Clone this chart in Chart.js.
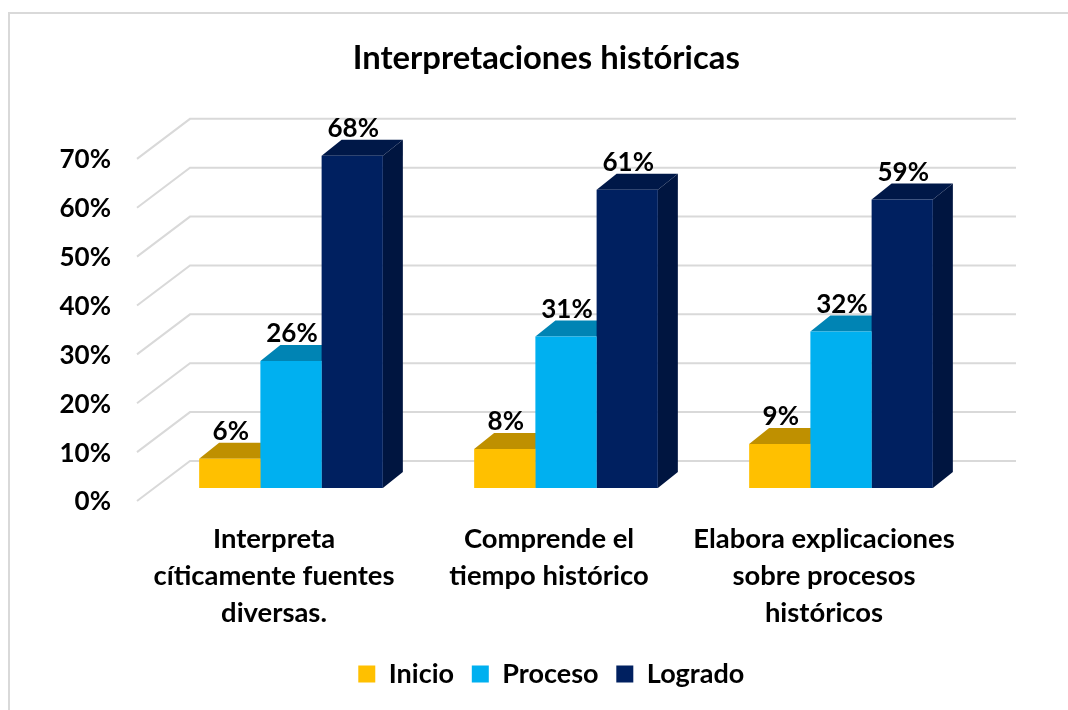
<!DOCTYPE html>
<html>
<head>
<meta charset="utf-8">
<title>Interpretaciones históricas</title>
<script src="https://cdn.jsdelivr.net/npm/chart.js@4"></script>
<style>
  html, body { margin: 0; padding: 0; background: #fff; }
  #wrap { position: relative; width: 1068px; height: 710px; }
</style>
</head>
<body>
<div id="wrap"><canvas id="grafico"></canvas></div>
<script>
const categorias = [
    ["Interpreta", "cíticamente fuentes", "diversas."],
    ["Comprende el", "tiempo histórico"],
    ["Elabora explicaciones", "sobre procesos", "históricos"]
]
const inicio = [6, 8, 9]
const proceso = [26, 31, 32]
const logrado = [68, 61, 59]
const marcasY = [0, 10, 20, 30, 40, 50, 60, 70]

const colores = ["#FFC000", "#00B0F0", "#002060"]
const coloresTapa = ["#BF9000", "#0084B4", "#001848"]
const coloresLado = ["#A67D00", "#007099", "#001540"]

const fuente = "Lato, Carlito, Calibri, sans-serif"
const colorGrid = "#D9D9D9"

/* profundidad de las barras y del piso, para simular el 3D */
const fondoBarra = { x: 20, y: 16 }
const fondoPiso = { x: 53, y: 40 }

/* marco exterior, rejilla en perspectiva y caras 3D de las barras */
const efecto3D = {
    id: "efecto3D",
    /* el titulo y la leyenda no estan centrados sobre el area de las barras */
    afterLayout(chart) {
        chart.titleBlock.left += 32
        chart.titleBlock.right += 32
        chart.legend.left += 37
        chart.legend.right += 37
    },
    beforeDraw(chart) {
        const ctx = chart.ctx
        ctx.save()
        ctx.strokeStyle = colorGrid
        ctx.lineWidth = 2
        ctx.beginPath()
        ctx.moveTo(9, 710)
        ctx.lineTo(9, 13)
        ctx.lineTo(1068, 13)
        ctx.stroke()
        ctx.restore()
    },
    beforeDatasetsDraw(chart) {
        const ctx = chart.ctx
        const escalaY = chart.scales.y
        ctx.save()
        ctx.strokeStyle = colorGrid
        ctx.lineWidth = 2
        marcasY.forEach((valor) => {
            const y = escalaY.getPixelForValue(valor) + 13
            ctx.beginPath()
            ctx.moveTo(137, y)
            ctx.lineTo(137 + fondoPiso.x, y - fondoPiso.y)
            ctx.lineTo(1016, y - fondoPiso.y)
            ctx.stroke()
        })
        chart.data.datasets.forEach((ds, i) => {
            chart.getDatasetMeta(i).data.forEach((barra) => {
                const izq = barra.x - barra.width / 2
                const der = barra.x + barra.width / 2
                ctx.fillStyle = coloresLado[i]
                ctx.beginPath()
                ctx.moveTo(der, barra.y)
                ctx.lineTo(der + fondoBarra.x, barra.y - fondoBarra.y)
                ctx.lineTo(der + fondoBarra.x, barra.base - fondoBarra.y)
                ctx.lineTo(der, barra.base)
                ctx.closePath()
                ctx.fill()
                ctx.fillStyle = coloresTapa[i]
                ctx.beginPath()
                ctx.moveTo(izq, barra.y)
                ctx.lineTo(izq + fondoBarra.x, barra.y - fondoBarra.y)
                ctx.lineTo(der + fondoBarra.x, barra.y - fondoBarra.y)
                ctx.lineTo(der, barra.y)
                ctx.closePath()
                ctx.fill()
            })
        })
        ctx.restore()
    },
    /* etiquetas de valor sobre cada barra */
    afterDatasetsDraw(chart) {
        const ctx = chart.ctx
        ctx.save()
        ctx.fillStyle = "#000"
        ctx.font = "bold 26px " + fuente
        ctx.textAlign = "center"
        ctx.textBaseline = "middle"
        chart.data.datasets.forEach((ds, i) => {
            chart.getDatasetMeta(i).data.forEach((barra, j) => {
                ctx.fillText(ds.data[j] + "%", barra.x + 1, barra.y - 27)
            })
        })
        ctx.restore()
    }
}

new Chart(document.getElementById("grafico"), {
    type: "bar",
    data: {
        labels: categorias,
        datasets: [
            { label: "Inicio", data: inicio, backgroundColor: colores[0] },
            { label: "Proceso", data: proceso, backgroundColor: colores[1] },
            { label: "Logrado", data: logrado, backgroundColor: colores[2] }
        ]
    },
    options: {
        responsive: true,
        maintainAspectRatio: false,
        animation: false,
        categoryPercentage: 0.668,
        barPercentage: 1,
        layout: { padding: { left: 50, right: 89.5, top: 0, bottom: 12.5 } },
        plugins: {
            tooltip: { enabled: false },
            title: {
                display: true,
                text: "Interpretaciones históricas",
                color: "#000",
                font: { family: fuente, size: 32.8, weight: "bold" },
                padding: { top: 38.5, bottom: 68 }
            },
            legend: {
                position: "bottom",
                labels: {
                    color: "#000",
                    boxWidth: 17,
                    boxHeight: 17,
                    padding: 17.75,
                    font: { family: fuente, size: 27, weight: "bold" }
                }
            }
        },
        scales: {
            x: {
                grid: { display: false },
                border: { display: false },
                ticks: {
                    color: "#000",
                    padding: 25,
                    maxRotation: 0,
                    autoSkip: false,
                    labelOffset: -17,
                    font: { family: fuente, size: 27.4, weight: "bold", lineHeight: 1.34 }
                },
                afterFit: (escala) => { escala.height = 154.75 }
            },
            y: {
                min: 0,
                max: 70,
                grid: { display: false },
                border: { display: false },
                ticks: {
                    color: "#000",
                    stepSize: 10,
                    padding: 34.5,
                    labelOffset: 14,
                    callback: (valor) => valor + "%",
                    font: { family: fuente, size: 26, weight: "bold" }
                },
                afterFit: (escala) => { escala.width = 103.5 }
            }
        }
    },
    plugins: [efecto3D]
})
</script>
</body>
</html>
